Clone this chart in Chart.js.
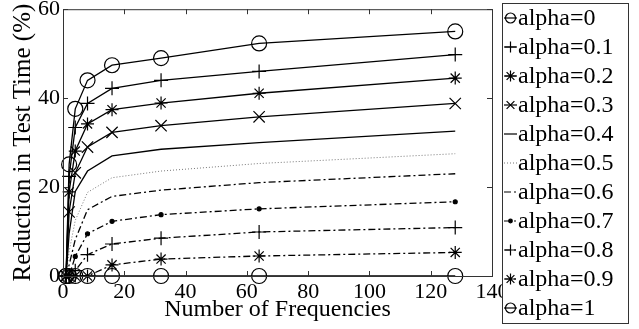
<!DOCTYPE html>
<html>
<head>
<meta charset="utf-8">
<script src="https://cdn.jsdelivr.net/npm/chart.js@4.4.1/dist/chart.umd.min.js"></script>
<style>
  html, body { margin: 0; padding: 0; background: #fff; }
  #wrap { width: 639px; height: 329px; }
</style>
</head>
<body>
<div id="wrap"><canvas id="myChart" width="639" height="329"></canvas></div>
<script>
// donnees
const xValues = [1, 2, 4, 8, 16, 32, 64, 128];
const seriesNames = ['alpha=0', 'alpha=0.1', 'alpha=0.2', 'alpha=0.3', 'alpha=0.4', 'alpha=0.5',
                     'alpha=0.6', 'alpha=0.7', 'alpha=0.8', 'alpha=0.9', 'alpha=1'];
const alpha0  = [0, 25.1, 37.6, 44.0, 47.4, 49.0, 52.3, 55.0];
const alpha01 = [0, 22.4, 33.4, 38.8, 42.2, 44.0, 46.0, 49.8];
const alpha02 = [0, 18.9, 28.1, 34.2, 37.4, 38.9, 41.1, 44.5];
const alpha03 = [0, 14.4, 23.2, 29.0, 32.3, 33.8, 35.8, 38.8];
const alpha04 = [0, 9.5, 19.0, 23.6, 27.0, 28.5, 30.0, 32.6];
const alpha05 = [0, 5.5, 12.5, 18.8, 22.1, 23.6, 25.3, 27.5];
const alpha06 = [0, 2.5, 8.2, 14.9, 17.9, 19.3, 21.0, 23.0];
const alpha07 = [0, 0, 4.4, 9.5, 12.3, 13.8, 15.1, 16.7];
const alpha08 = [0, 0, 1.2, 4.8, 7.2, 8.5, 9.9, 10.9];
const alpha09 = [0, 0, 0, 0, 2.5, 3.8, 4.5, 5.3];
const alpha1  = [0, 0, 0, 0, 0, 0, 0, 0];
const allSeries = [alpha0, alpha01, alpha02, alpha03, alpha04, alpha05, alpha06, alpha07, alpha08, alpha09, alpha1];
const xTicks = [0, 20, 40, 60, 80, 100, 120, 140];
const yTicks = [0, 20, 40, 60];

const FONT = "'Liberation Serif', 'Times New Roman', serif";

// style de chaque courbe (marqueur, trait)
const SOLID = [];
const DOTTED = [1, 2];
const DASHDOT = [7, 3, 2, 3];
const styles = [
    { pointStyle: 'circle',   radius: 7.5, dash: SOLID },
    { pointStyle: 'cross',    radius: 7,   dash: SOLID },
    { pointStyle: 'star',     radius: 6.5, dash: SOLID },
    { pointStyle: 'crossRot', radius: 8,   dash: SOLID },
    { pointStyle: false,      radius: 0,   dash: SOLID },
    { pointStyle: false,      radius: 0,   dash: DOTTED, color: '#777' },
    { pointStyle: false,      radius: 0,   dash: DASHDOT },
    { pointStyle: 'circle',   radius: 2,   dash: DASHDOT, filled: true },
    { pointStyle: 'cross',    radius: 7,   dash: DASHDOT },
    { pointStyle: 'star',     radius: 6.5, dash: DASHDOT },
    { pointStyle: 'circle',   radius: 7.5, dash: SOLID }
];

const datasets = allSeries.map(function(values, i) {
    const st = styles[i];
    return {
        label: seriesNames[i],
        data: values.map(function(v, k) { return { x: xValues[k], y: v }; }),
        borderColor: st.color || '#000',
        borderWidth: st.dash === DOTTED ? 1 : 1.3,
        borderDash: st.dash,
        pointStyle: st.pointStyle,
        pointRadius: st.radius,
        pointHoverRadius: st.radius,
        pointBorderColor: '#000',
        pointBackgroundColor: st.filled ? '#000' : 'rgba(0,0,0,0)',
        pointBorderWidth: 1.2,
        tension: 0,
        clip: false
    };
});

// cadre + graduations vers l'interieur (style matlab)
const boxTicks = {
    id: 'boxTicks',
    afterDatasetsDraw: function(chart) {
        const ctx = chart.ctx;
        const a = chart.chartArea;
        const xs = chart.scales.x, ys = chart.scales.y;
        const len = 5;
        ctx.save();
        ctx.strokeStyle = '#333';
        ctx.lineWidth = 1;
        ctx.setLineDash([]);
        ctx.strokeRect(a.left + 0.5, a.top + 0.5, a.right - a.left, a.bottom - a.top);
        ctx.beginPath();
        xTicks.forEach(function(v) {
            const px = Math.round(xs.getPixelForValue(v)) + 0.5;
            ctx.moveTo(px, a.bottom); ctx.lineTo(px, a.bottom - len);
            ctx.moveTo(px, a.top); ctx.lineTo(px, a.top + len);
        });
        yTicks.forEach(function(v) {
            const py = Math.round(ys.getPixelForValue(v)) + 0.5;
            ctx.moveTo(a.left, py); ctx.lineTo(a.left + len, py);
            ctx.moveTo(a.right, py); ctx.lineTo(a.right - len, py);
        });
        ctx.stroke();
        ctx.restore();
    }
};

function drawMarker(ctx, style, radius, filled, x, y) {
    ctx.beginPath();
    if (style === 'circle') {
        ctx.arc(x, y, radius, 0, Math.PI * 2);
        if (filled) { ctx.fill(); }
        ctx.stroke();
        return;
    }
    const r = radius, d = radius * Math.SQRT1_2;
    if (style === 'cross' || style === 'star') {
        ctx.moveTo(x - r, y); ctx.lineTo(x + r, y);
        ctx.moveTo(x, y - r); ctx.lineTo(x, y + r);
    }
    if (style === 'crossRot' || style === 'star') {
        ctx.moveTo(x - d, y - d); ctx.lineTo(x + d, y + d);
        ctx.moveTo(x - d, y + d); ctx.lineTo(x + d, y - d);
    }
    ctx.stroke();
}

// legende encadree a droite
const boxLegend = {
    id: 'boxLegend',
    afterDraw: function(chart) {
        const ctx = chart.ctx;
        const left = 502, top = 3, w = 126, h = 320;
        const step = 29;
        ctx.save();
        ctx.fillStyle = '#fff';
        ctx.fillRect(left, top, w, h);
        ctx.strokeStyle = '#333';
        ctx.lineWidth = 1;
        ctx.strokeRect(left + 0.5, top + 0.5, w, h);
        ctx.font = '24px ' + FONT;
        ctx.textBaseline = 'middle';
        chart.data.datasets.forEach(function(ds, i) {
            const st = styles[i];
            const y = top + 15 + i * step;
            ctx.strokeStyle = st.color || '#000';
            ctx.lineWidth = 1.2;
            ctx.setLineDash(st.dash);
            ctx.beginPath();
            ctx.moveTo(left + 2, y); ctx.lineTo(left + 15, y);
            ctx.stroke();
            ctx.setLineDash([]);
            ctx.strokeStyle = '#000';
            ctx.fillStyle = '#000';
            if (st.pointStyle) {
                const r = st.filled ? 1.8 : (st.pointStyle === 'circle' ? 5 : 5.5);
                drawMarker(ctx, st.pointStyle, r, st.filled, left + 8.5, y);
            }
            ctx.fillStyle = '#000';
            ctx.fillText(ds.label, left + 16, y + 1);
        });
        ctx.restore();
    }
};

const chart = new Chart(document.getElementById('myChart').getContext('2d'), {
    type: 'line',
    data: { datasets: datasets },
    options: {
        responsive: false,
        animation: false,
        events: [],
        layout: { padding: { top: 0, right: 147, left: 0, bottom: 0 } },
        plugins: {
            legend: { display: false },
            tooltip: { enabled: false }
        },
        scales: {
            x: {
                type: 'linear',
                min: 0, max: 140,
                afterBuildTicks: function(scale) { scale.ticks = xTicks.map(function(v) { return { value: v }; }); },
                afterFit: function(scale) { scale.height = 53; },
                grid: { display: false, drawTicks: false },
                border: { display: false },
                ticks: { color: '#000', padding: 3, maxRotation: 0, font: { family: FONT, size: 22 } },
                title: { display: true, text: 'Number of Frequencies', color: '#000',
                         padding: { top: 0, bottom: 5 }, font: { family: FONT, size: 24 } }
            },
            y: {
                type: 'linear',
                min: 0, max: 60,
                afterBuildTicks: function(scale) { scale.ticks = yTicks.map(function(v) { return { value: v }; }); },
                afterFit: function(scale) { scale.width = 63; scale.paddingTop = 9; },
                grid: { display: false, drawTicks: false },
                border: { display: false },
                ticks: { color: '#000', padding: 3, font: { family: FONT, size: 22 } },
                title: { display: true, text: 'Reduction in Test Time (%)', color: '#000',
                         padding: { top: 8, bottom: 0 }, font: { family: FONT, size: 25 } }
            }
        }
    },
    plugins: [boxTicks, boxLegend]
});
</script>
</body>
</html>
